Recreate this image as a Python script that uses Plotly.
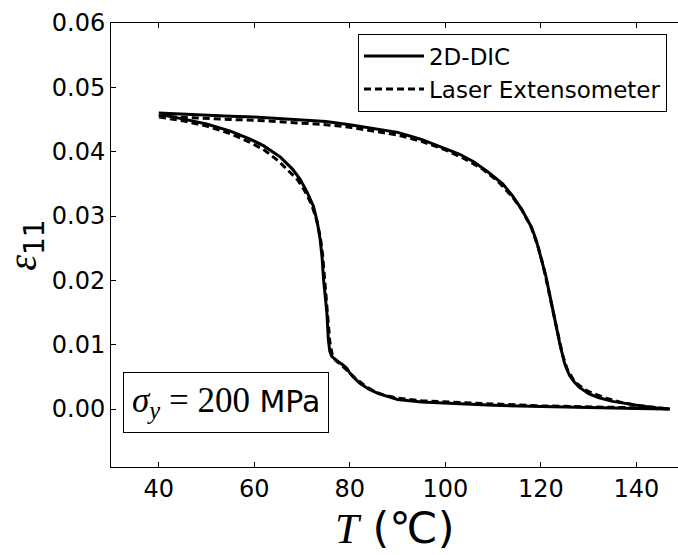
import plotly.graph_objects as go

# Strain vs temperature loop at sigma_y = 200 MPa: 2D-DIC vs laser extensometer
# Heating branch (upper) and cooling branch (lower), temperature in deg C
T_heat_dic = [40, 45, 50, 55, 60, 65, 70, 75, 80, 85, 90, 95, 100, 103, 106, 109,
              112, 114, 116, 118, 119, 120, 121, 122, 123, 124, 125, 126, 127, 128,
              130, 132, 135, 138, 141, 144, 147]
eps_heat_dic = [0.0460, 0.0458, 0.0457, 0.0455, 0.0454, 0.0452, 0.0450, 0.0447,
                0.0442, 0.0436, 0.0430, 0.0419, 0.0405, 0.0396, 0.0384, 0.0368,
                0.0350, 0.0332, 0.0310, 0.0283, 0.0263, 0.0236, 0.0208, 0.0172,
                0.0135, 0.0100, 0.0070, 0.0052, 0.0042, 0.0034, 0.0024, 0.0018,
                0.0012, 0.0008, 0.0005, 0.0002, 0.0000]

T_cool_dic = [147, 140, 130, 120, 110, 100, 95, 90, 88, 86, 84, 82.1, 80.7, 80,
              79.4, 78.5, 77.5, 76.2, 75.8, 75.5, 75.2, 74.9, 74.5, 74.2, 73.8,
              73.2, 72.4, 71, 69.6, 68, 65.4, 62, 59, 55, 50, 45, 40]
eps_cool_dic = [0.0000, 0.0001, 0.0002, 0.0004, 0.0006, 0.0009, 0.0011, 0.0015,
                0.0019, 0.0024, 0.0031, 0.0040, 0.0050, 0.0056, 0.0063, 0.0069,
                0.0074, 0.0082, 0.0090, 0.0108, 0.0149, 0.0170, 0.0201, 0.0235,
                0.0263, 0.0290, 0.0315, 0.0338, 0.0357, 0.0373, 0.0392, 0.0409,
                0.0420, 0.0432, 0.0443, 0.0451, 0.0458]

T_heat_laser = [40, 45, 50, 55, 60, 65, 70, 75, 80, 85, 90, 95, 100, 104, 108, 111,
                114, 116, 118, 119.5, 120.5, 121.5, 122.5, 123.5, 124.5, 125.5,
                127, 129, 131, 134, 137, 140, 143, 147]
eps_heat_laser = [0.0455, 0.0453, 0.0452, 0.0450, 0.0449, 0.0447, 0.0445, 0.0442,
                  0.0438, 0.0432, 0.0426, 0.0416, 0.0403, 0.0389, 0.0372, 0.0354,
                  0.0330, 0.0310, 0.0282, 0.0250, 0.0222, 0.0188, 0.0152, 0.0118,
                  0.0085, 0.0062, 0.0043, 0.0031, 0.0024, 0.0016, 0.0010, 0.0006,
                  0.0003, 0.0000]

T_cool_laser = [147, 140, 130, 120, 110, 100, 95, 90, 87, 85, 83, 81, 79.5, 78, 77,
                76.3, 75.8, 75.5, 75.1, 74.7, 74.3, 73.8, 73, 72, 70.5, 69, 67, 65,
                62, 59, 55, 50, 45, 40]
eps_cool_laser = [0.0000, 0.0002, 0.0003, 0.0005, 0.0008, 0.0011, 0.0013, 0.0017,
                  0.0022, 0.0028, 0.0037, 0.0049, 0.0060, 0.0070, 0.0076, 0.0085,
                  0.0105, 0.0135, 0.0170, 0.0205, 0.0240, 0.0268, 0.0295, 0.0318,
                  0.0340, 0.0357, 0.0372, 0.0386, 0.0403, 0.0415, 0.0428, 0.0440,
                  0.0448, 0.0454]

x_ticks = [40, 60, 80, 100, 120, 140]
y_ticks = [0.00, 0.01, 0.02, 0.03, 0.04, 0.05, 0.06]

SANS = "DejaVu Sans"
SERIF = "Liberation Serif"

fig = go.Figure()
fig.add_trace(go.Scatter(
    x=T_heat_dic + T_cool_dic, y=eps_heat_dic + eps_cool_dic,
    mode="lines", name="2D-DIC",
    line=dict(color="black", width=3),
))
fig.add_trace(go.Scatter(
    x=T_heat_laser + T_cool_laser, y=eps_heat_laser + eps_cool_laser,
    mode="lines", name="Laser Extensometer",
    line=dict(color="black", width=3, dash="7px,4px"),
))

fig.update_layout(
    width=678, height=555,
    margin=dict(l=111, r=0, t=23, b=88),
    paper_bgcolor="white", plot_bgcolor="white",
    font=dict(family=SANS, color="black", size=24),
    showlegend=True,
    legend=dict(
        x=0.4356, y=0.976, xanchor="left", yanchor="top",
        bordercolor="black", borderwidth=1, bgcolor="white",
        font=dict(family=SANS, size=23), itemwidth=60,
    ),
    xaxis=dict(
        range=[30, 148.7], tickvals=x_ticks,
        ticks="inside", ticklen=5, tickcolor="black",
        showline=True, linecolor="black", linewidth=1, mirror="ticks",
        showgrid=False, zeroline=False,
        tickfont=dict(family=SANS, size=24),
    ),
    yaxis=dict(
        range=[-0.009, 0.06], tickvals=y_ticks, tickformat=".2f",
        ticks="inside", ticklen=5, tickcolor="black",
        showline=True, linecolor="black", linewidth=1, mirror=False,
        showgrid=False, zeroline=False,
        tickfont=dict(family=SANS, size=24),
        title=dict(
            text=f"<span style='font-family:{SERIF}'><i>ε</i></span><sub>11</sub>",
            font=dict(family=SANS, size=40), standoff=4,
        ),
    ),
    annotations=[
        # x-axis label, placed just under the tick labels
        dict(
            x=0.5, y=-0.137, xref="paper", yref="paper",
            xanchor="center", yanchor="middle", showarrow=False,
            text=f"<span style='font-family:{SERIF}'><i>T</i></span> (℃)",
            font=dict(family=SANS, size=43, color="black"),
        ),
        # load level box
        dict(
            x=0.2028, y=0.1448, xref="paper", yref="paper",
            xanchor="center", yanchor="middle", showarrow=False,
            text=(f"<span style='font-family:{SERIF};font-size:35px'>"
                  f"<i>σ</i><sub><i>y</i></sub> = 200</span> MPa"),
            font=dict(family=SANS, size=30, color="black"),
            bordercolor="black", borderwidth=1, borderpad=8, bgcolor="white",
        ),
    ],
)

fig.write_html("out.html")
